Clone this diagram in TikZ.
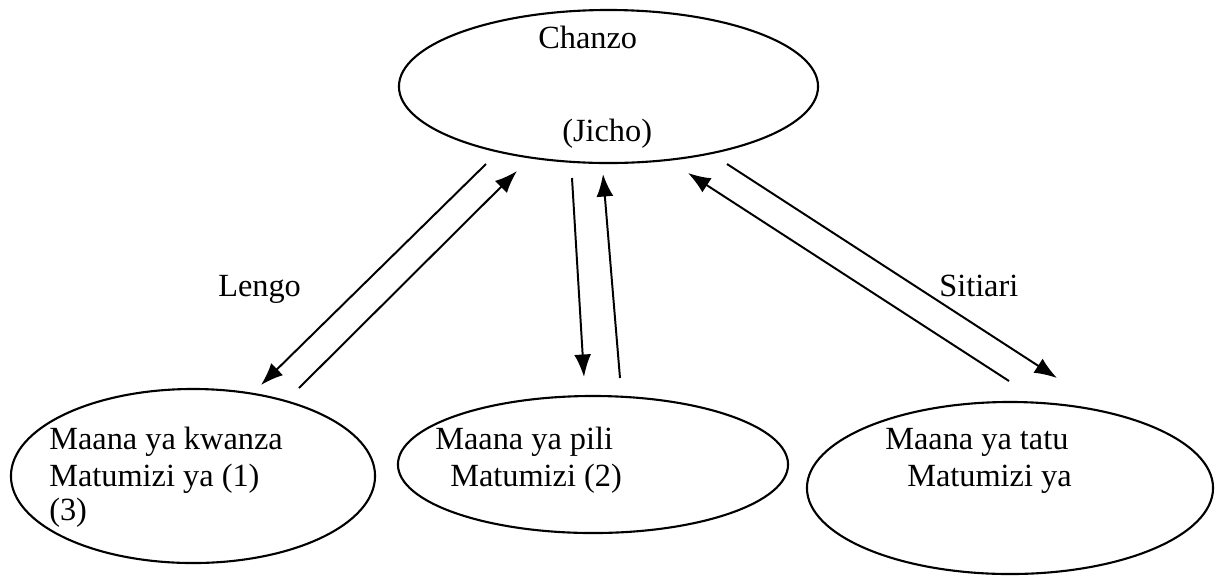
\documentclass[tikz,border=0pt]{standalone}
\usepackage{fontspec}
\setmainfont{Liberation Serif}
\usepackage{tikz}
\usetikzlibrary{shapes.geometric, arrows.meta}
\tikzset{>={Latex[length=16pt, width=12pt]}}
\tikzset{
    blob/.style={ellipse, draw, line width=1.5pt, inner sep=0pt},
    txt/.style={anchor=base west, inner sep=0pt},
    arr/.style={line width=1.4pt, ->}
}

\begin{document}
\begin{tikzpicture}[x=0.025cm, y=-0.025cm, font=\fontsize{23}{26}\selectfont]
    \useasboundingbox(0, 0)rectangle(1223, 575);
    % ellipses
    \node[blob, minimum width=10.475cm, minimum height=3.825cm](chanzo) at (608.5, 86.5){};
    \node[blob, minimum width=9.1cm, minimum height=4.35cm](kwanza) at (193, 476){};
    \node[blob, minimum width=9.75cm, minimum height=3.425cm](pili) at (593, 464.5){};
    \node[blob, minimum width=10.15cm, minimum height=4.3cm](tatu) at (1010, 488){};
    % texts
    \node[txt](chanzoA) at (538, 48){Chanzo};
    \node[txt](chanzoB) at (562, 141){(Jicho)};
    \node[txt](kwanzaA) at (49, 449){Maana ya kwanza};
    \node[txt](kwanzaB) at (49, 486){Matumizi ya (1)};
    \node[txt](kwanzaC) at (49, 520){(3)};
    \node[txt](piliA) at (435, 449){Maana ya pili};
    \node[txt](piliB) at (450, 486){Matumizi (2)};
    \node[txt](tatuA) at (885, 449){Maana ya tatu};
    \node[txt](tatuB) at (907, 486){Matumizi ya};
    \node[txt](lengo) at (218, 296){Lengo};
    \node[txt](sitiari) at (939, 296){Sitiari};
    % arrow ends
    \coordinate(l1a) at (486, 164);
    \coordinate(l1b) at (261, 385);
    \coordinate(l2a) at (299, 388);
    \coordinate(l2b) at (517, 171);
    \coordinate(m1a) at (572, 178);
    \coordinate(m1b) at (584, 377);
    \coordinate(m2a) at (620, 378);
    \coordinate(m2b) at (603, 174);
    \coordinate(r1a) at (727, 164);
    \coordinate(r1b) at (1057, 378);
    \coordinate(r2a) at (1009, 381);
    \coordinate(r2b) at (688, 173);
    \draw[arr](l1a)--(l1b);
    \draw[arr](l2a)--(l2b);
    \draw[arr](m1a)--(m1b);
    \draw[arr](m2a)--(m2b);
    \draw[arr](r1a)--(r1b);
    \draw[arr](r2a)--(r2b);
\end{tikzpicture}
\end{document}
